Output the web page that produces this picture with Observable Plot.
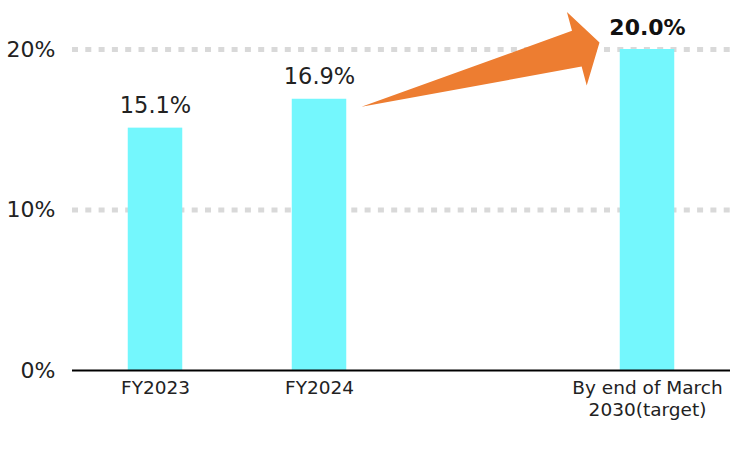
<!DOCTYPE html>
<html>
<head>
<meta charset="utf-8">
<script src="https://cdn.jsdelivr.net/npm/d3@7"></script>
<script src="https://cdn.jsdelivr.net/npm/@observablehq/plot@0.6"></script>
<style>
  html, body { margin: 0; padding: 0; background: #fff; }
  #chart { width: 730px; height: 451px; }
</style>
</head>
<body>
<div id="chart"></div>
<script>
// ---- data ----
const categories = ["FY2023", "FY2024", "By end of March\n2030(target)"];
const values = [15.1, 16.9, 20.0];
const labels = ["15.1%", "16.9%", "20.0%"];
const spacer = " ";
const xDomain = [categories[0], categories[1], spacer, categories[2]];
const yTicks = [0, 10, 20];
const gridTicks = [10, 20];
// arrow from FY2024 level to target level
const arrowCats = [categories[1], categories[2]];
const arrowLevels = [16.4, 20.4];

const data = categories.map((c, i) => ({cat: c, value: values[i], label: labels[i], bold: i === 2}));

const barWidth = 55;
const stepApprox = 164.5;
const inset = (stepApprox - barWidth) / 2;

function arrowMark(index, scales, values_, dimensions) {
  const bw = scales.x.bandwidth ? scales.x.bandwidth() : 0;
  const cx0 = scales.x(arrowCats[0]) + bw / 2;
  const cx1 = scales.x(arrowCats[1]) + bw / 2;
  const tail = [cx0 + barWidth / 2 + 15, scales.y(arrowLevels[0])];
  const tip = [cx1 - barWidth / 2 - 20, scales.y(arrowLevels[1])];
  const dx = tip[0] - tail[0], dy = tip[1] - tail[1];
  const len = Math.hypot(dx, dy);
  const u = [dx / len, dy / len];
  const n = [u[1], -u[0]];
  const headLen = 23.5, headHalf = 38, shaftHalf = 18.5;
  const p = (b) => [tip[0] - headLen * u[0] + b * n[0], tip[1] - headLen * u[1] + b * n[1]];
  const pts = [tail, p(shaftHalf), p(headHalf), tip, p(-headHalf), p(-shaftHalf)];
  const g = d3.create("svg:path")
    .attr("d", "M" + pts.map(q => q.join(",")).join("L") + "Z")
    .attr("fill", "#ED7D31");
  return g.node();
}

const chart = Plot.plot({
  width: 730,
  height: 451,
  marginLeft: 72,
  marginRight: 0,
  marginTop: 49,
  marginBottom: 81,
  style: {fontFamily: "DejaVu Sans", color: "#222", background: "#fff"},
  x: {domain: xDomain, padding: 0},
  y: {domain: [0, 20]},
  marks: [
    Plot.ruleY(gridTicks, {stroke: "#d9d9d9", strokeWidth: 5, strokeDasharray: "6,7.3"}),
    Plot.barY(data, {x: "cat", y: "value", fill: "#74F7FD", insetLeft: inset, insetRight: inset}),
    Plot.ruleY([0], {stroke: "#000", strokeWidth: 2}),
    Plot.text(data.filter(d => !d.bold), {x: "cat", y: "value", text: "label", lineAnchor: "bottom", dy: -15,
      fontSize: 22.5, fill: "#222", fontWeight: "normal"}),
    Plot.text(data.filter(d => d.bold), {x: "cat", y: "value", text: "label", lineAnchor: "bottom", dy: -15,
      fontSize: 22, fill: "#111", fontWeight: "bold"}),
    arrowMark,
    Plot.axisY({ticks: yTicks, tickFormat: d => d + "%", tickSize: 0, tickPadding: 17, fontSize: 22, label: null}),
    Plot.axisX({tickSize: 0, tickPadding: 8, fontSize: 18.5, lineHeight: 1.2, label: null,
      tickFormat: d => d === spacer ? "" : d})
  ]
});
document.getElementById("chart").appendChild(chart);
</script>
</body>
</html>
